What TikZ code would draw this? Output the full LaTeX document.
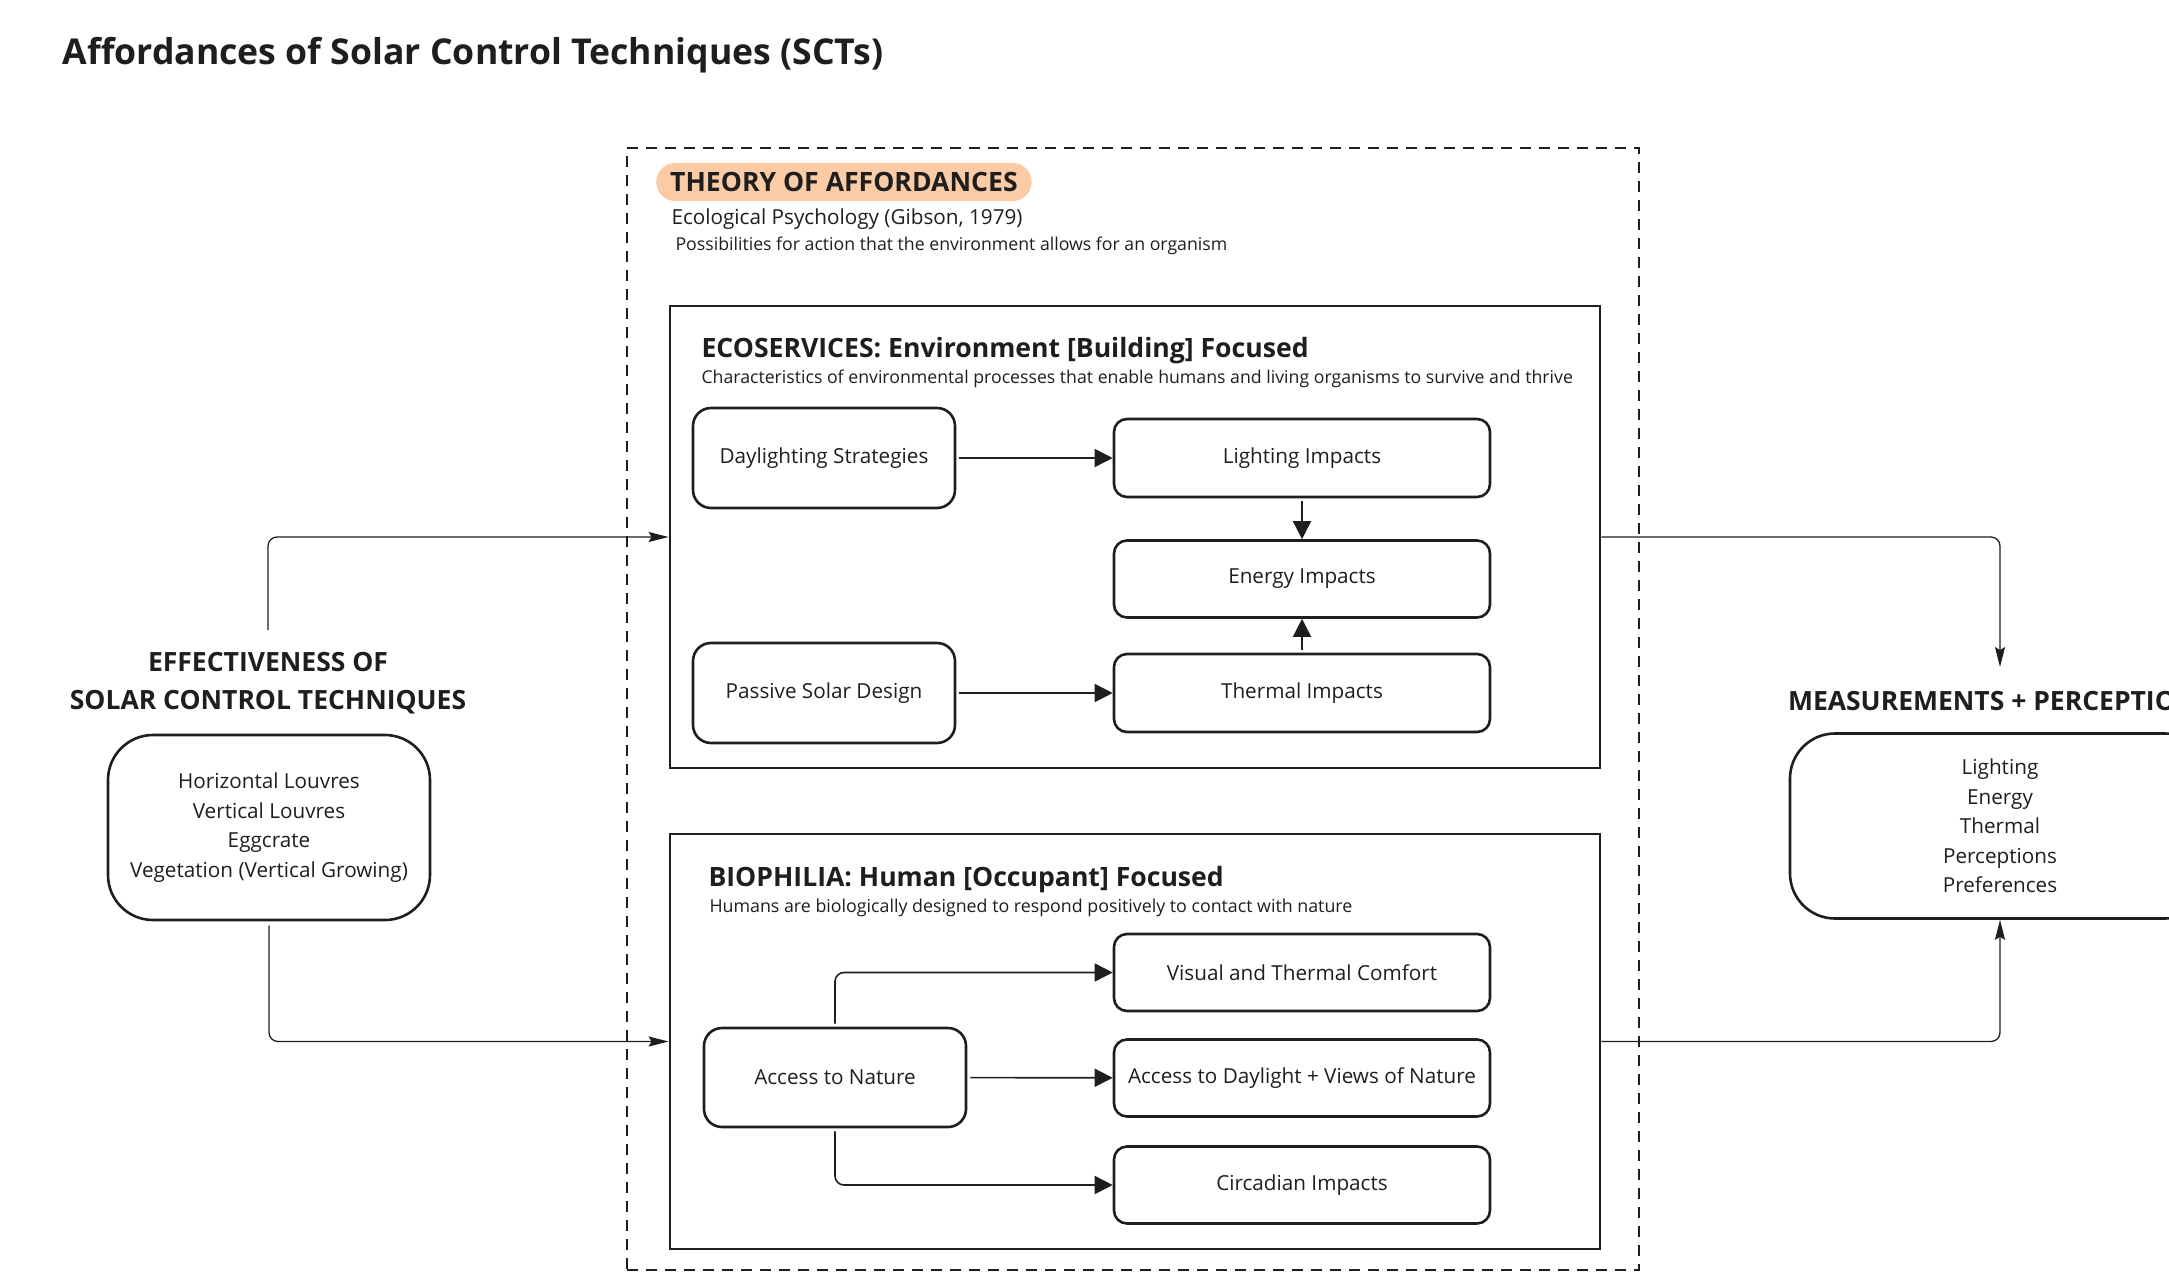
\documentclass[tikz,border=0pt]{standalone}
\usepackage{fontspec}
\setmainfont{Open Sans}
\usetikzlibrary{arrows.meta}

\definecolor{ink}{HTML}{1E1E1E}
\definecolor{peach}{HTML}{FBCBA6}

\tikzset{
    item/.style={draw=ink, line width=2.6pt, rounded corners=13pt, align=center, text=ink, font=\fontsize{20.7}{24}\selectfont},
    panel/.style={draw=ink, line width=2.8pt},
    heading/.style={text=ink, align=center, font=\fontsize{26.5}{38}\selectfont\bfseries},
    link/.style={draw=ink, line width=1.3pt, rounded corners=9pt, -{Stealth[length=20pt, width=10pt, inset=3pt]}},
    flow/.style={draw=ink, line width=1.6pt, rounded corners=9pt, -{Triangle[length=18pt, width=18pt]}},
}

\begin{document}
\begin{tikzpicture}[x=1pt, y=-1pt]
    \clip (0,0) rectangle (2169,1281);

    % Title
    \node[anchor=west, text=ink, font=\fontsize{35.6}{40}\selectfont\bfseries] (title) at (59,55) {Affordances of Solar Control Techniques (SCTs)};

    % Theory of affordances frame
    \node[draw=ink, line width=2.8pt, dash pattern=on 11pt off 8pt, minimum width=1012, minimum height=1122] (theory) at (1133,709) {};
    \node[anchor=west, fill=peach, rounded corners=19pt, inner xsep=14pt, minimum height=38, text=ink, font=\fontsize{26.6}{30}\selectfont\bfseries] (theorylabel) at (656,182) {THEORY OF AFFORDANCES};
    \node[anchor=west, text=ink, font=\fontsize{20.7}{24}\selectfont] (gibson) at (668,219) {Ecological Psychology (Gibson, 1979)};
    \node[anchor=west, text=ink, font=\fontsize{17.7}{20}\selectfont] (gibsondesc) at (672,246) {Possibilities for action that the environment allows for an organism};

    % Ecoservices
    \node[panel, minimum width=930, minimum height=462] (eco) at (1135,537) {};
    \node[anchor=west, text=ink, font=\fontsize{26.6}{30}\selectfont\bfseries] (ecotitle) at (698,351) {ECOSERVICES: Environment [Building] Focused};
    \node[anchor=west, text=ink, font=\fontsize{17.7}{20}\selectfont] (ecodesc) at (698,379) {Characteristics of environmental processes that enable humans and living organisms to survive and thrive};
    \node[item, rounded corners=18pt, minimum width=262, minimum height=100] (daylight) at (824,458) {Daylighting Strategies};
    \node[item, minimum width=376, minimum height=78] (lighting) at (1302,458) {Lighting Impacts};
    \node[item, minimum width=376, minimum height=77] (energy) at (1302,579) {Energy Impacts};
    \node[item, rounded corners=18pt, minimum width=262, minimum height=100] (passive) at (824,693) {Passive Solar Design};
    \node[item, minimum width=376, minimum height=78] (thermal) at (1302,693) {Thermal Impacts};
    \draw[flow, shorten <=3pt] (daylight) -- (lighting);
    \draw[flow, shorten <=3pt] (lighting) -- (energy);
    \draw[flow, shorten <=3pt] (thermal) -- (energy);
    \draw[flow, shorten <=3pt] (passive) -- (thermal);

    % Biophilia
    \node[panel, minimum width=930, minimum height=415] (bio) at (1135,1041.5) {};
    \node[anchor=west, text=ink, font=\fontsize{26.6}{30}\selectfont\bfseries] (biotitle) at (705,880) {BIOPHILIA: Human [Occupant] Focused};
    \node[anchor=west, text=ink, font=\fontsize{17.8}{20}\selectfont] (biodesc) at (706,908) {Humans are biologically designed to respond positively to contact with nature};
    \node[item, rounded corners=18pt, minimum width=262, minimum height=99] (nature) at (835,1077.5) {Access to Nature};
    \node[item, minimum width=376, minimum height=77] (comfort) at (1302,972.5) {Visual and Thermal Comfort};
    \node[item, minimum width=376, minimum height=77] (views) at (1302,1078) {Access to Daylight + Views of Nature};
    \node[item, minimum width=376, minimum height=77] (circadian) at (1302,1185) {Circadian Impacts};
    \draw[flow, shorten <=3pt] (nature.north) |- (comfort.west);
    \draw[flow, shorten <=3pt] (nature) -- (views);
    \draw[flow, shorten <=3pt] (nature.south) |- (circadian.west);

    % Solar control techniques
    \node[heading, inner ysep=22pt] (scthead) at (268,683) {EFFECTIVENESS OF\\SOLAR CONTROL TECHNIQUES};
    \node[item, rounded corners=45pt, minimum width=322, minimum height=185, font=\fontsize{20.7}{29.6}\selectfont] (sct) at (269,827.5) {Horizontal Louvres\\Vertical Louvres\\Eggcrate\\Vegetation (Vertical Growing)};
    \draw[link] (scthead.north) |- (eco.west);
    \draw[link, shorten <=4pt] (sct.south) |- (bio.west);

    % Measurements + perceptions
    \node[heading, inner ysep=24pt] (meashead) at (2000,701) {MEASUREMENTS + PERCEPTIONS};
    \node[item, rounded corners=45pt, minimum width=420, minimum height=185, font=\fontsize{20.7}{29.6}\selectfont] (meas) at (2000,826) {Lighting\\Energy\\Thermal\\Perceptions\\Preferences};
    \draw[link] (eco.east) -| (meashead.north);
    \draw[link] (bio.east) -| (meas.south);
\end{tikzpicture}
\end{document}
